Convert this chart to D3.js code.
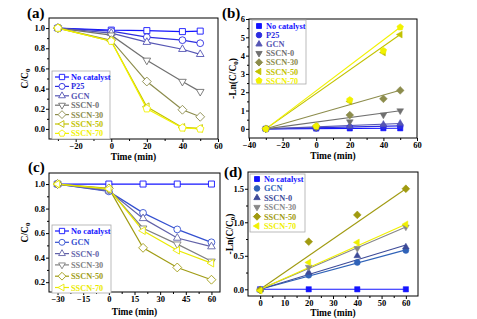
<!DOCTYPE html>
<html>
<head>
<meta charset="utf-8">
<script src="https://cdn.jsdelivr.net/npm/d3@7"></script>
<style>
  body { margin: 0; background: #fff; }
  svg text { font-family: 'Liberation Serif', 'Times New Roman', serif; font-weight: bold; }
</style>
</head>
<body>
<div id="grafica"></div>
<script>
// ---- datos ----
var timeA   = [-30, 0, 20, 40, 50]
var namesA  = ['No catalyst', 'P25', 'GCN', 'SSCN-0', 'SSCN-30', 'SSCN-50', 'SSCN-70']
var valuesA = [
  [1.0, 0.98, 0.975, 0.965, 0.97],
  [1.0, 0.97, 0.91, 0.88, 0.85],
  [1.0, 0.95, 0.86, 0.79, 0.74],
  [1.0, 0.93, 0.68, 0.47, 0.37],
  [1.0, 0.88, 0.47, 0.19, 0.12],
  [1.0, 0.87, 0.22, 0.015, 0.005],
  [1.0, 0.87, 0.20, 0.01, 0.0]
]

var timeB   = [-30, 0, 20, 40, 50]
var valuesB = [
  [0, 0.02, 0.025, 0.035, 0.03],
  [0, 0.03, 0.09, 0.13, 0.16],
  [0, 0.05, 0.15, 0.24, 0.30],
  [0, 0.07, 0.39, 0.76, 0.99],
  [0, 0.13, 0.75, 1.64, 2.10],
  [0, 0.14, 1.50, 4.17, 5.15],
  [0, 0.15, 1.58, 4.27, 5.55]
]
// pendientes de las rectas de ajuste (desde t = -30)
var slopesB = [0.0004, 0.002, 0.0037, 0.0124, 0.0263, 0.0644, 0.0694]

var timeC   = [-30, 0, 20, 40, 60]
var namesC  = ['No catalyst', 'GCN', 'SSCN-0', 'SSCN-30', 'SSCN-50', 'SSCN-70']
var valuesC = [
  [1.0, 1.0, 1.0, 1.0, 1.0],
  [1.0, 0.94, 0.765, 0.63, 0.525],
  [1.0, 0.945, 0.72, 0.56, 0.49],
  [1.0, 0.955, 0.64, 0.51, 0.37],
  [1.0, 0.965, 0.48, 0.32, 0.22],
  [1.0, 0.96, 0.62, 0.46, 0.355]
]

var timeD   = [0, 20, 40, 60]
var valuesD = [
  [0, 0, 0, 0],
  [-0.01, 0.21, 0.40, 0.58],
  [-0.01, 0.25, 0.50, 0.63],
  [-0.01, 0.33, 0.61, 0.93],
  [-0.01, 0.71, 1.11, 1.50],
  [-0.02, 0.40, 0.70, 0.97]
]
// pendientes de las rectas de ajuste (desde t = 0)
var slopesD = [0, 0.0098, 0.011, 0.0155, 0.025, 0.0162]

var ticksA = [-20, 0, 20, 40, 60]
var ticksB = [-40, -20, 0, 20, 40, 60]
var ticksC = [-30, -15, 0, 15, 30, 45, 60]
var ticksD = [0, 10, 20, 30, 40, 50, 60]

// ---- estilos ----
var coloresA = ['#1414ff', '#2c2ce0', '#5656b4', '#707070', '#8c8c4c', '#c2c200', '#f2f200']
var formasA  = ['square', 'circle', 'up', 'down', 'diamond', 'left', 'hex']
var coloresC = ['#1414ff', '#3450d0', '#6262a8', '#808080', '#a09c14', '#eaea00']
var formasC  = ['square', 'circle', 'up', 'down', 'diamond', 'left']
var coloresD = ['#1414ff', '#2f62b8', '#3c4a98', '#888888', '#a09a10', '#f0f000']
var formasD  = ['square', 'circle', 'up', 'down', 'diamond', 'left']

svg = d3.select('#grafica')
  .append('svg')
  .attr('width', 477)
  .attr('height', 319)

function marcador(forma, r) {
  var pts = (n, a0, rr) => d3.range(n).map(i => [rr * Math.cos(a0 + i * 2 * Math.PI / n), rr * Math.sin(a0 + i * 2 * Math.PI / n)])
  var p
  if (forma == 'circle') return d3.symbol(d3.symbolCircle, Math.PI * r * r)()
  if (forma == 'square') p = pts(4, Math.PI / 4, r * 1.25)
  if (forma == 'up') p = pts(3, -Math.PI / 2, r * 1.3)
  if (forma == 'down') p = pts(3, Math.PI / 2, r * 1.3)
  if (forma == 'left') p = pts(3, Math.PI, r * 1.3)
  if (forma == 'diamond') p = pts(4, 0, r * 1.3)
  if (forma == 'hex') p = pts(5, -Math.PI / 2, r * 1.15)
  return 'M' + p.map(d => d.join(',')).join('L') + 'Z'
}

function panel(cfg) {
  var x = d3.scaleLinear().domain(cfg.xd).range(cfg.xr)
  var y = d3.scaleLinear().domain(cfg.yd).range(cfg.yr)
  var g = svg.append('g')

  // ejes
  var xAxis = d3.axisBottom(x).tickValues(cfg.xt).tickSize(3).tickSizeOuter(0)
  var xMinor = d3.axisBottom(x).tickValues(cfg.xm).tickSize(2).tickFormat('').tickSizeOuter(0)
  var yAxis = d3.axisLeft(y).tickValues(cfg.yt).tickSize(3).tickSizeOuter(0).tickFormat(cfg.yf)
  var yMinor = d3.axisLeft(y).tickValues(cfg.ym).tickSize(2).tickFormat('').tickSizeOuter(0)

  ;[xAxis, xMinor].forEach(a => {
    var ax = g.append('g').attr('transform', `translate(0, ${cfg.yr[0]})`).call(a)
    ax.select('.domain').remove()
    ax.selectAll('text').attr('font-size', 8.5).attr('fill', '#000').attr('y', 4)
  })
  ;[yAxis, yMinor].forEach(a => {
    var ax = g.append('g').attr('transform', `translate(${cfg.xr[0]}, 0)`).call(a)
    ax.select('.domain').remove()
    ax.selectAll('text').attr('font-size', 8.5).attr('fill', '#000').attr('x', -4)
  })

  g.append('rect')
    .attr('x', cfg.xr[0]).attr('y', cfg.yr[1])
    .attr('width', cfg.xr[1] - cfg.xr[0]).attr('height', cfg.yr[0] - cfg.yr[1])
    .attr('fill', 'none').attr('stroke', '#000').attr('stroke-width', 1)

  // series
  var plot = g.append('g')
  cfg.values.forEach((vals, i) => {
    var c = cfg.colors[i]
    if (cfg.slopes) {
      var t0 = cfg.fit[0], t1 = cfg.fit[1]
      plot.append('line')
        .attr('x1', x(t0)).attr('y1', y(0))
        .attr('x2', x(t1)).attr('y2', y(cfg.slopes[i] * (t1 - t0)))
        .attr('stroke', c).attr('stroke-width', 1.1)
    } else {
      plot.append('path')
        .datum(vals)
        .attr('d', d3.line().x((d, j) => x(cfg.time[j])).y(d => y(d)))
        .attr('fill', 'none').attr('stroke', c).attr('stroke-width', 1.2)
    }
  })
  cfg.values.forEach((vals, i) => {
    var c = cfg.colors[i]
    plot.selectAll(null)
      .data(vals)
      .enter()
      .append('path')
      .attr('transform', (d, j) => `translate(${x(cfg.time[j])}, ${y(d)})`)
      .attr('d', marcador(cfg.shapes[i], cfg.abierto ? 3.4 : 3))
      .attr('fill', cfg.abierto ? '#fff' : c)
      .attr('stroke', c).attr('stroke-width', cfg.abierto ? 0.9 : 0.5)
  })

  // leyenda
  var L = cfg.legend
  var ley = g.append('g')
  ley.append('rect')
    .attr('x', L.x).attr('y', L.y).attr('width', L.w).attr('height', L.h)
    .attr('fill', '#fff').attr('stroke', '#aaa').attr('stroke-width', 0.8)
  cfg.names.forEach((n, i) => {
    var yy = L.y + L.pad + i * L.dy
    var c = cfg.colors[i]
    if (cfg.abierto) {
      ley.append('line').attr('x1', L.x + 3).attr('x2', L.x + 17).attr('y1', yy).attr('y2', yy)
        .attr('stroke', c).attr('stroke-width', 1.2)
    }
    ley.append('path')
      .attr('transform', `translate(${L.x + (cfg.abierto ? 10 : 7)}, ${yy})`)
      .attr('d', marcador(cfg.shapes[i], cfg.abierto ? 3 : 2.8))
      .attr('fill', cfg.abierto ? '#fff' : c)
      .attr('stroke', c).attr('stroke-width', 0.9)
    ley.append('text')
      .attr('x', L.x + (cfg.abierto ? 19 : 14)).attr('y', yy + 3)
      .attr('font-size', 8.3).attr('fill', c)
      .text(n)
  })

  // titulos
  g.append('text')
    .attr('x', (cfg.xr[0] + cfg.xr[1]) / 2).attr('y', cfg.xlabelY)
    .attr('text-anchor', 'middle').attr('font-size', 9.5)
    .text('Time (min)')
  var yl = g.append('text')
    .attr('transform', `translate(${cfg.ylabelX}, ${(cfg.yr[0] + cfg.yr[1]) / 2}) rotate(-90)`)
    .attr('text-anchor', 'middle').attr('font-size', 9.5)
  yl.append('tspan').text(cfg.ylog ? '-Ln(C/C' : 'C/C')
  yl.append('tspan').attr('font-size', 7).attr('dy', 2).text('0')
  if (cfg.ylog) yl.append('tspan').attr('dy', -2).text(')')

  svg.append('text')
    .attr('x', cfg.tag[0]).attr('y', cfg.tag[1])
    .attr('font-size', 15)
    .text(cfg.tagText)
}

panel({
  xd: [-35, 60], xr: [49, 218], yd: [-0.1, 1.1], yr: [139, 18],
  xt: ticksA, xm: [-30, -10, 10, 30, 50], yt: [0, 0.2, 0.4, 0.6, 0.8, 1.0], ym: [0.1, 0.3, 0.5, 0.7, 0.9], yf: d3.format('.1f'),
  time: timeA, values: valuesA, names: namesA, colors: coloresA, shapes: formasA, abierto: true,
  legend: { x: 52, y: 71, w: 58, h: 68, pad: 6, dy: 9.4 },
  xlabelY: 160, ylabelX: 28, tag: [27, 18], tagText: '(a)'
})

panel({
  xd: [-40, 60], xr: [249, 417], yd: [-0.5, 6], yr: [138, 19],
  xt: ticksB, xm: [-30, -10, 10, 30, 50], yt: [0, 1, 2, 3, 4, 5, 6], ym: [0.5, 1.5, 2.5, 3.5, 4.5, 5.5], yf: d3.format('d'),
  time: timeB, values: valuesB, slopes: slopesB, fit: [-30, 50], names: namesA, colors: coloresA, shapes: formasA, abierto: false,
  legend: { x: 252, y: 20, w: 54, h: 64, pad: 6, dy: 9.1 }, ylog: true,
  xlabelY: 159, ylabelX: 236, tag: [222, 18], tagText: '(b)'
})

panel({
  xd: [-35, 65], xr: [49, 220], yd: [0.12, 1.09], yr: [292, 173],
  xt: ticksC, xm: [-22.5, -7.5, 7.5, 22.5, 37.5, 52.5], yt: [0.2, 0.4, 0.6, 0.8, 1.0], ym: [0.3, 0.5, 0.7, 0.9], yf: d3.format('.1f'),
  time: timeC, values: valuesC, names: namesC, colors: coloresC, shapes: formasC, abierto: true,
  legend: { x: 52, y: 225, w: 59, h: 68, pad: 6, dy: 11.3 },
  xlabelY: 315, ylabelX: 28, tag: [28, 172], tagText: '(c)'
})

panel({
  xd: [-5, 65], xr: [248, 418], yd: [-0.1, 1.75], yr: [296, 172],
  xt: ticksD, xm: [5, 15, 25, 35, 45, 55], yt: [0, 0.5, 1.0, 1.5], ym: [0.25, 0.75, 1.25], yf: d3.format('.1f'),
  time: timeD, values: valuesD, slopes: slopesD, fit: [0, 60], names: namesC, colors: coloresD, shapes: formasD, abierto: false,
  legend: { x: 250, y: 174, w: 55, h: 58, pad: 5, dy: 9.4 }, ylog: true,
  xlabelY: 316, ylabelX: 233, tag: [224, 177], tagText: '(d)'
})
</script>
</body>
</html>
